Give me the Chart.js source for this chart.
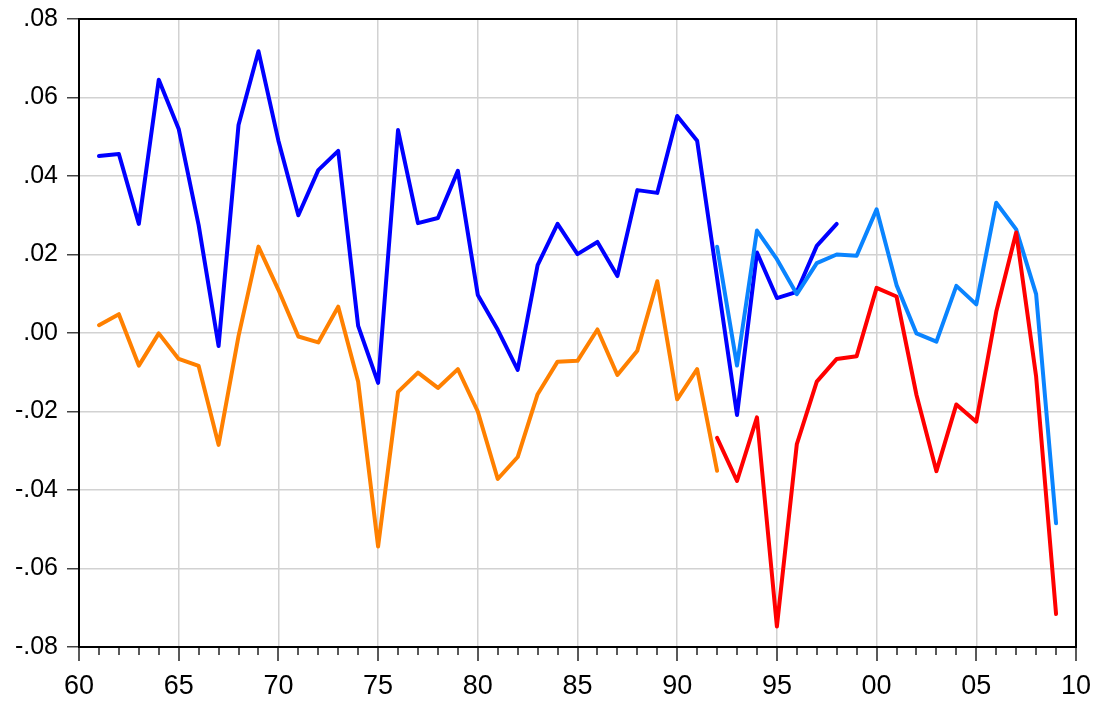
<!DOCTYPE html>
<html>
<head>
<meta charset="utf-8">
<script src="https://cdn.jsdelivr.net/npm/chart.js@4/dist/chart.umd.min.js"></script>
<style>
  html, body { margin: 0; padding: 0; background: #fff; }
  #wrap { width: 1096px; height: 702px; }
</style>
</head>
<body>
<div id="wrap"><canvas id="myChart" width="1096" height="702"></canvas></div>
<script>
// years for each series
const yearsA = [1961,1962,1963,1964,1965,1966,1967,1968,1969,1970,1971,1972,1973,1974,1975,1976,1977,1978,1979,1980,
                1981,1982,1983,1984,1985,1986,1987,1988,1989,1990,1991,1992,1993,1994,1995,1996,1997,1998]
const blueVals = [0.0451,0.0456,0.0278,0.0645,0.0520,0.0275,-0.0033,0.0530,0.0718,0.0490,0.0300,0.0415,0.0464,0.0018,-0.0127,
                  0.0517,0.0280,0.0293,0.0413,0.0097,0.0008,-0.0094,0.0173,0.0278,0.0201,0.0232,0.0145,0.0364,0.0357,0.0553,
                  0.0490,0.0140,-0.0209,0.0205,0.0089,0.0105,0.0222,0.0278]

const yearsB = [1961,1962,1963,1964,1965,1966,1967,1968,1969,1970,1971,1972,1973,1974,1975,1976,1977,1978,1979,1980,
                1981,1982,1983,1984,1985,1986,1987,1988,1989,1990,1991,1992]
const orangeVals = [0.0020,0.0048,-0.0083,-0.0001,-0.0066,-0.0084,-0.0285,-0.0008,0.0220,0.0110,-0.0009,-0.0024,0.0067,-0.0124,-0.0544,
                    -0.0150,-0.0101,-0.0140,-0.0092,-0.0200,-0.0372,-0.0316,-0.0156,-0.0073,-0.0071,0.0009,-0.0107,-0.0045,0.0132,-0.0169,
                    -0.0092,-0.0351]

const yearsC = [1992,1993,1994,1995,1996,1997,1998,1999,2000,2001,2002,2003,2004,2005,2006,2007,2008,2009]
const lightBlueVals = [0.0220,-0.0083,0.0261,0.0188,0.0099,0.0178,0.0200,0.0197,0.0315,0.0122,-0.0001,-0.0022,0.0120,0.0073,0.0332,0.0264,0.0099,-0.0485]
const redVals = [-0.0267,-0.0377,-0.0215,-0.0748,-0.0283,-0.0124,-0.0066,-0.0059,0.0115,0.0093,-0.0158,-0.0352,-0.0182,-0.0226,0.0054,0.0256,-0.0111,-0.0716]

const yTicks = [-0.08,-0.06,-0.04,-0.02,0,0.02,0.04,0.06,0.08]

function pts(xs, ys){
    return xs.map((x, i) => ({x: x, y: ys[i]}))
}

function yLabel(v){
    let s = Math.abs(v).toFixed(2).replace(/^0/, '')
    return (v < -0.0001 ? '-' : '') + s
}

function xLabel(v){
    return String(v % 100).padStart(2, '0')
}

// tick marks under x axis + frame round the plot
const frame = {
    id: 'frame',
    afterDraw(chart){
        const c = chart.ctx, a = chart.chartArea, xs = chart.scales.x
        c.save()
        c.strokeStyle = '#222'
        c.lineWidth = 1.5
        for(let yr = 1960 ; yr <= 2010 ; yr++)
        {
            let px = Math.round(xs.getPixelForValue(yr))
            let len = (yr % 5 === 0) ? 14 : 8
            c.beginPath()
            c.moveTo(px, a.bottom)
            c.lineTo(px, a.bottom + len)
            c.stroke()
        }
        c.strokeStyle = '#000'
        c.lineWidth = 2
        c.strokeRect(a.left, a.top, a.right - a.left, a.bottom - a.top)
        c.restore()
    }
}

const ctx = document.getElementById('myChart')

const chart = new Chart(ctx, {
    type: 'line',
    data: {
        datasets: [
            { label: 'a', data: pts(yearsA, blueVals), borderColor: '#0000ff', borderWidth: 4, order: 4 },
            { label: 'b', data: pts(yearsB, orangeVals), borderColor: '#ff8000', borderWidth: 4, order: 3 },
            { label: 'c', data: pts(yearsC, lightBlueVals), borderColor: '#0a84ff', borderWidth: 4, order: 2 },
            { label: 'd', data: pts(yearsC, redVals), borderColor: '#ff0000', borderWidth: 4, order: 1 }
        ]
    },
    options: {
        responsive: false,
        animation: false,
        devicePixelRatio: 1,
        layout: { padding: { top: 19, right: 20, left: 0, bottom: 0 } },
        elements: {
            line: { tension: 0, borderCapStyle: 'round', borderJoinStyle: 'round' },
            point: { radius: 0, hoverRadius: 0 }
        },
        plugins: {
            legend: { display: false },
            tooltip: { enabled: false }
        },
        scales: {
            x: {
                type: 'linear',
                min: 1960,
                max: 2010,
                afterFit: s => { s.height = 55; s.paddingRight = 0; s.paddingLeft = 0 },
                afterBuildTicks: s => { s.ticks = []; for(let yr = 1960 ; yr <= 2010 ; yr++) s.ticks.push({value: yr}) },
                ticks: {
                    autoSkip: false,
                    maxRotation: 0,
                    padding: 23,
                    color: '#000',
                    font: { family: 'Liberation Sans, Arial, sans-serif', size: 27 },
                    callback: v => (v % 5 === 0) ? xLabel(v) : ''
                },
                grid: {
                    drawTicks: false,
                    lineWidth: 1.5,
                    color: c => (c.tick && c.tick.value % 5 === 0) ? '#d2d2d2' : 'rgba(0,0,0,0)'
                },
                border: { display: false }
            },
            y: {
                min: -0.08,
                max: 0.08,
                afterFit: s => { s.width = 79; s.paddingTop = 0; s.paddingBottom = 0 },
                afterBuildTicks: s => { s.ticks = yTicks.map(v => ({value: v})) },
                ticks: {
                    padding: 9,
                    color: '#000',
                    font: { family: 'Liberation Sans, Arial, sans-serif', size: 25 },
                    callback: v => yLabel(v)
                },
                grid: {
                    drawTicks: true,
                    tickLength: 12,
                    tickColor: '#444',
                    lineWidth: 1.5,
                    color: '#d2d2d2'
                },
                border: { display: false }
            }
        }
    },
    plugins: [frame]
})
</script>
</body>
</html>
